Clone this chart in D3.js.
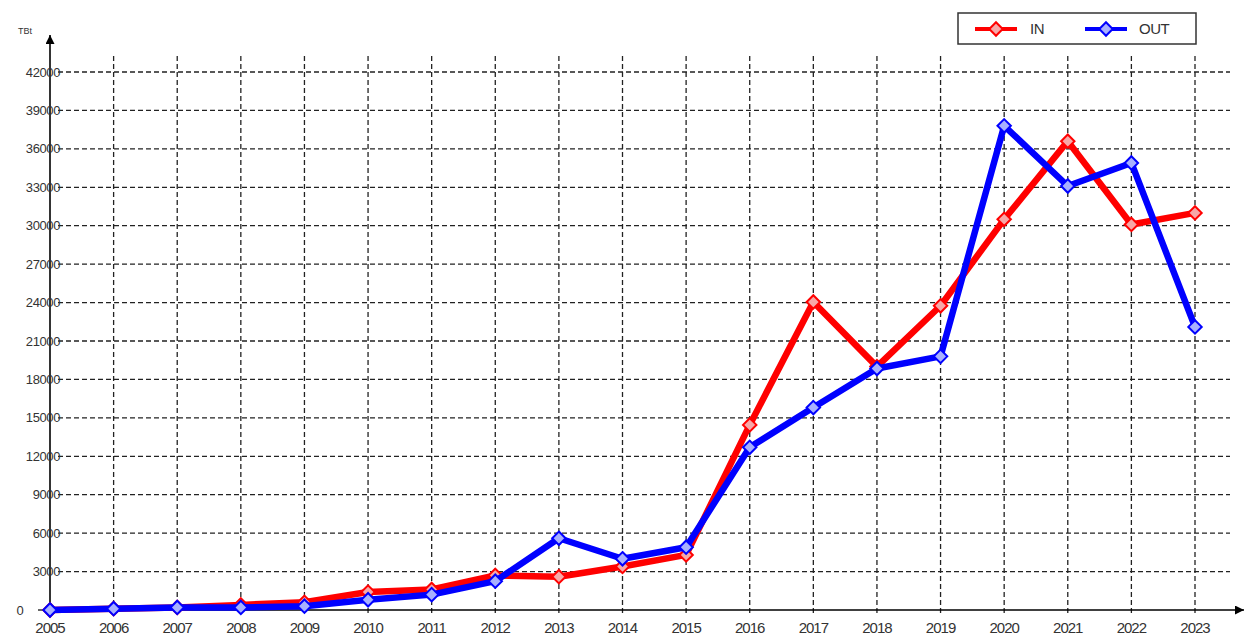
<!DOCTYPE html>
<html><head><meta charset="utf-8">
<script src="https://cdn.jsdelivr.net/npm/d3@7"></script>
<style>body{margin:0;background:#fff}svg{display:block}text{font-family:"Liberation Sans",Arial,sans-serif}</style>
</head><body>
<script>
const years = [2005,2006,2007,2008,2009,2010,2011,2012,2013,2014,2015,2016,2017,2018,2019,2020,2021,2022,2023];
const inValues  = [0,100,200,400,600,1400,1600,2700,2600,3400,4300,14450,24050,19000,23750,30500,36600,30100,31000];
const outValues = [0,100,200,200,300,800,1200,2250,5600,4000,4900,12700,15800,18850,19800,37800,33100,34900,22100];
const yTicks = [0,3000,6000,9000,12000,15000,18000,21000,24000,27000,30000,33000,36000,39000,42000];
const seriesNames = ["IN","OUT"];

const W=1246,H=637;
const svg=d3.select("body").append("svg").attr("width",W).attr("height",H);
const x=d3.scaleLinear().domain([2005,2023]).range([50,1195]);
const y=d3.scaleLinear().domain([0,42000]).range([610,72]);

const defs=svg.append("defs");
defs.append("marker").attr("id","arr").attr("viewBox","0 0 10 10").attr("refX",10).attr("refY",5)
  .attr("markerWidth",9).attr("markerHeight",9).attr("orient","auto-start-reverse").attr("markerUnits","userSpaceOnUse")
  .append("path").attr("d","M0,0L10,5L0,10Z").attr("fill","#000");

const grid=svg.append("g").attr("stroke","#222").attr("stroke-width",1.3).attr("stroke-dasharray","5,3");
grid.selectAll("line.h").data(yTicks.slice(1)).join("line").attr("class","h")
  .attr("x1",58).attr("x2",1230).attr("y1",d=>y(d)).attr("y2",d=>y(d));
grid.selectAll("line.v").data(years.slice(1)).join("line").attr("class","v")
  .attr("x1",d=>x(d)).attr("x2",d=>x(d)).attr("y1",56).attr("y2",616);

// axes
svg.append("line").attr("x1",50).attr("x2",50).attr("y1",612).attr("y2",35).attr("stroke","#000").attr("stroke-width",1.6).attr("marker-end","url(#arr)");
svg.append("line").attr("x1",50).attr("x2",1244).attr("y1",610).attr("y2",610).attr("stroke","#000").attr("stroke-width",1.6).attr("marker-end","url(#arr)");
svg.append("line").attr("x1",38).attr("x2",50).attr("y1",610).attr("y2",610).attr("stroke","#000").attr("stroke-width",1.2);

svg.append("g").selectAll("text").data(yTicks).join("text")
  .attr("x",d=>d===0?20:60).attr("y",d=>y(d)+4.5).attr("text-anchor",d=>d===0?"middle":"end")
  .attr("font-size",13).attr("letter-spacing",-0.4).attr("fill","#333").text(d=>d);
svg.append("g").selectAll("text").data(years).join("text")
  .attr("x",d=>x(d)).attr("y",633).attr("text-anchor","middle").attr("font-size",15).attr("letter-spacing",-1)
  .attr("fill","#333").text(d=>d);
svg.append("text").attr("x",18).attr("y",34).attr("font-size",9).attr("fill","#333").text("TBt");

const line=d3.line().x((d,i)=>x(years[i])).y(d=>y(d));
const diamond=d3.symbol().type(d3.symbolDiamond2).size(115);
function drawSeries(vals,color,fill){
  svg.append("path").datum(vals).attr("d",line).attr("fill","none").attr("stroke",color).attr("stroke-width",6.5).attr("stroke-linejoin","round");
  svg.append("g").selectAll("path").data(vals).join("path").attr("d",diamond)
    .attr("transform",(d,i)=>`translate(${x(years[i])},${y(d)})`).attr("fill",fill).attr("stroke",color).attr("stroke-width",2);
}
drawSeries(inValues,"#ff0000","#f7a8a8");
drawSeries(outValues,"#0000ff","#a8b0ff");

// legend
const lg=svg.append("g");
lg.append("rect").attr("x",958).attr("y",13).attr("width",238).attr("height",31).attr("fill","#fff").attr("stroke","#333").attr("stroke-width",1.5);
const items=[{n:seriesNames[0],c:"#ff0000",f:"#f7a8a8",x:975,tx:1030},{n:seriesNames[1],c:"#0000ff",f:"#a8b0ff",x:1085,tx:1139}];
items.forEach(it=>{
  lg.append("line").attr("x1",it.x).attr("x2",it.x+42).attr("y1",29).attr("y2",29).attr("stroke",it.c).attr("stroke-width",4);
  lg.append("path").attr("d",diamond).attr("transform",`translate(${it.x+21},29)`).attr("fill",it.f).attr("stroke",it.c).attr("stroke-width",2);
  lg.append("text").attr("x",it.tx).attr("y",34).attr("font-size",15).attr("letter-spacing",-0.5).attr("fill","#333").text(it.n);
});
</script>
</body></html>
